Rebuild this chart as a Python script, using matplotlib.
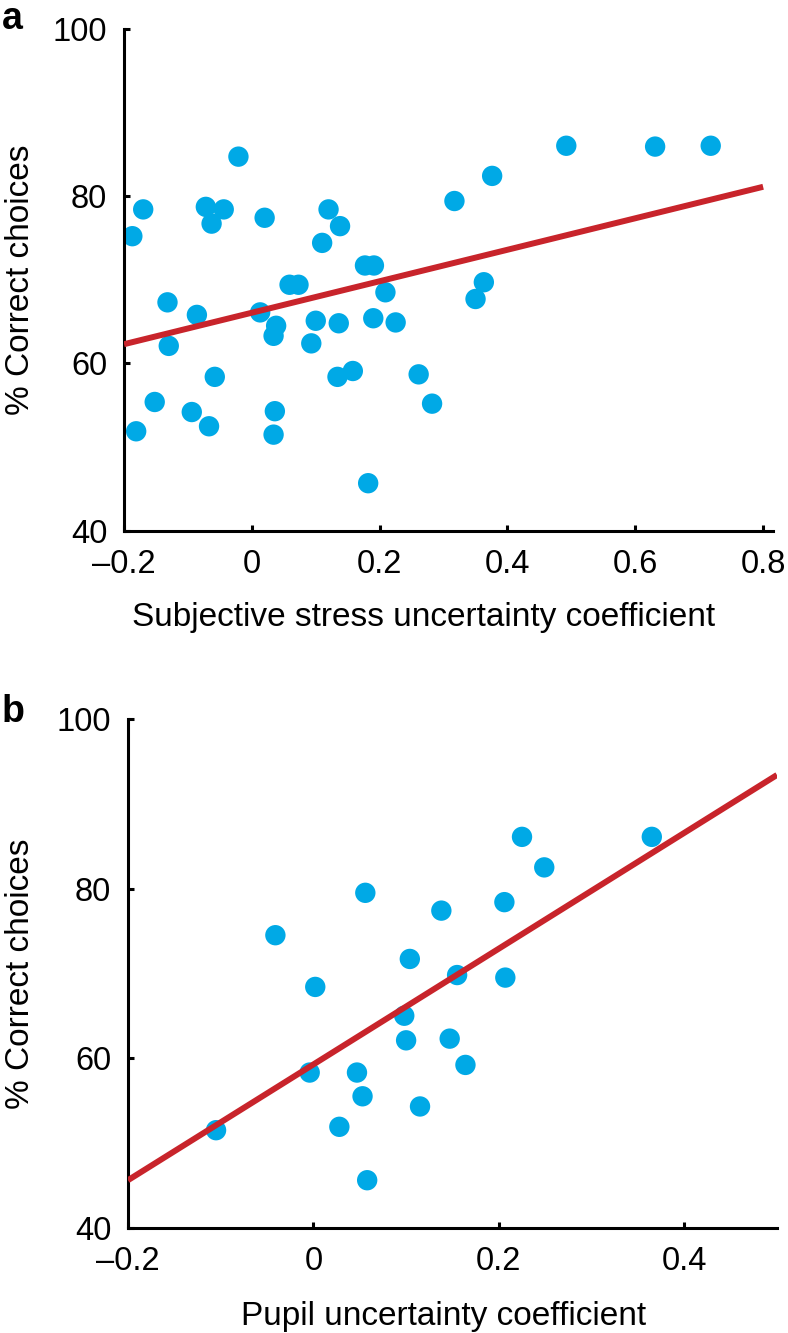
import numpy as np
import matplotlib
matplotlib.use("Agg")
import matplotlib.pyplot as plt

plt.rcParams['font.family'] = ['Liberation Sans', 'DejaVu Sans']

# panel a: subjective stress uncertainty coefficient vs % correct
stress_x = [-0.021, -0.170, -0.187, -0.072, -0.044, -0.063, 0.020, 0.120, 0.138,
            0.110, 0.177, 0.191, 0.059, 0.073, 0.209, -0.132, -0.086, 0.013,
            0.038, 0.034, 0.100, 0.136, 0.190, 0.225, 0.093, -0.130, -0.058,
            0.134, 0.158, -0.152, -0.094, 0.036, -0.181, -0.067, 0.034, 0.182,
            0.363, 0.350, 0.261, 0.282, 0.492, 0.631, 0.718, 0.376, 0.317]
stress_y = [84.7, 78.4, 75.2, 78.7, 78.4, 76.7, 77.4, 78.4, 76.4,
            74.4, 71.7, 71.7, 69.4, 69.4, 68.5, 67.3, 65.8, 66.1,
            64.5, 63.3, 65.1, 64.8, 65.4, 64.9, 62.4, 62.1, 58.4,
            58.4, 59.1, 55.4, 54.2, 54.3, 51.9, 52.5, 51.5, 45.7,
            69.7, 67.7, 58.7, 55.2, 86.0, 85.9, 86.0, 82.4, 79.4]
fit_a_x = [-0.2, 0.8]
fit_a_y = [62.3, 81.1]

# panel b: pupil uncertainty coefficient vs % correct
pupil_x = [0.056, -0.041, 0.225, 0.365, 0.249, 0.206, 0.138, 0.104, 0.155,
           0.207, 0.002, -0.004, 0.047, 0.053, 0.028, -0.105, 0.058, 0.098,
           0.100, 0.147, 0.164, 0.115]
pupil_y = [79.5, 74.5, 86.1, 86.1, 82.5, 78.4, 77.4, 71.7, 69.8,
           69.5, 68.4, 58.3, 58.3, 55.5, 51.9, 51.5, 45.6, 65.0,
           62.1, 62.3, 59.2, 54.3]
fit_b_x = [-0.2, 0.5]
fit_b_y = [45.6, 93.4]

yticks = [40, 60, 80, 100]
xticks_a = [-0.2, 0, 0.2, 0.4, 0.6, 0.8]
xticks_b = [-0.2, 0, 0.2, 0.4]

blue = '#00a9e6'
red = '#c8242b'


def fmt(v):
    if v == 0:
        return '0'
    s = ('%.1f' % v)
    return s.replace('-', '\u2013')


def style_axis(ax, xticks, xlim):
    ax.set_xlim(*xlim)
    ax.set_ylim(40, 100)
    ax.set_yticks(yticks)
    ax.set_yticklabels([str(t) for t in yticks])
    ax.set_xticks(xticks)
    ax.set_xticklabels([fmt(t) for t in xticks])
    for side in ['top', 'right']:
        ax.spines[side].set_visible(False)
    for side in ['left', 'bottom']:
        ax.spines[side].set_linewidth(2.2)
    ax.tick_params(direction='in', length=4, width=2.2, labelsize=23.5)
    ax.tick_params(axis='x', pad=13)
    ax.tick_params(axis='y', pad=12)
    ax.set_ylabel('% Correct choices', fontsize=24)


fig = plt.figure(figsize=(7.88, 13.33), dpi=100)

ax1 = fig.add_axes([0.1574, 0.6017, 0.8232, 0.3769])
ax1.scatter(stress_x, stress_y, s=215, color=blue, edgecolors='none', zorder=2)
ax1.plot(fit_a_x, fit_a_y, color=red, lw=4.3, zorder=3, solid_capstyle='butt')
style_axis(ax1, xticks_a, (-0.2, 0.815))
ax1.set_xlabel('Subjective stress uncertainty coefficient', fontsize=24)
ax1.xaxis.set_label_coords(0.462, -0.142)
ax1.yaxis.set_label_coords(-0.136, 0.5)

ax2 = fig.add_axes([0.1624, 0.0790, 0.8236, 0.3816])
ax2.scatter(pupil_x, pupil_y, s=215, color=blue, edgecolors='none', zorder=2)
ax2.plot(fit_b_x, fit_b_y, color=red, lw=4.3, zorder=3, solid_capstyle='butt')
style_axis(ax2, xticks_b, (-0.2, 0.5))
ax2.set_xlabel('Pupil uncertainty coefficient', fontsize=24)
ax2.xaxis.set_label_coords(0.487, -0.145)
ax2.yaxis.set_label_coords(-0.142, 0.5)

fig.text(0.002, 0.999, 'a', fontsize=27, fontweight='bold', va='top', ha='left')
fig.text(0.002, 0.4796, 'b', fontsize=27, fontweight='bold', va='top', ha='left')

fig.savefig('out.png', dpi=100)
